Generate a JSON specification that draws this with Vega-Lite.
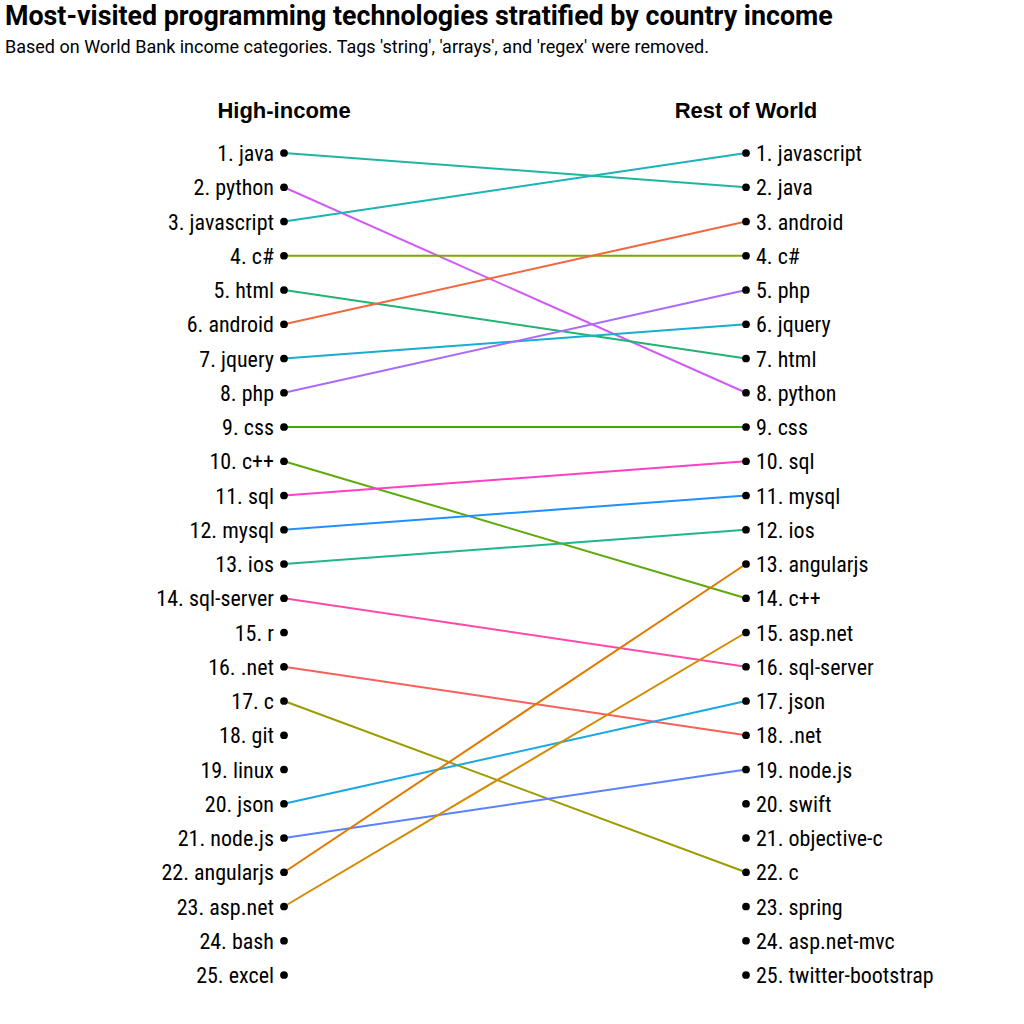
{
  "$schema": "https://vega.github.io/schema/vega-lite/v6.json",
  "width": 1024,
  "height": 964,
  "autosize": {"type": "none"},
  "padding": {"left": 0, "top": 60, "right": 0, "bottom": 0},
  "background": "white",
  "config": {"view": {"stroke": null}},
  "title": {
    "text": "Most-visited programming technologies stratified by country income",
    "subtitle": "Based on World Bank income categories. Tags 'string', 'arrays', and 'regex' were removed.",
    "anchor": "start",
    "frame": "bounds",
    "font": "Roboto",
    "fontSize": 26.8,
    "fontWeight": "bold",
    "color": "#000000",
    "subtitleFont": "Roboto",
    "subtitleFontSize": 18,
    "subtitleColor": "#000000",
    "subtitlePadding": 8,
    "offset": 3,
    "dx": 5
  },
  "data": {"values": [
    {"side": "High-income", "rank": 1, "tech": "java", "label": "1. java"},
    {"side": "High-income", "rank": 2, "tech": "python", "label": "2. python"},
    {"side": "High-income", "rank": 3, "tech": "javascript", "label": "3. javascript"},
    {"side": "High-income", "rank": 4, "tech": "c#", "label": "4. c#"},
    {"side": "High-income", "rank": 5, "tech": "html", "label": "5. html"},
    {"side": "High-income", "rank": 6, "tech": "android", "label": "6. android"},
    {"side": "High-income", "rank": 7, "tech": "jquery", "label": "7. jquery"},
    {"side": "High-income", "rank": 8, "tech": "php", "label": "8. php"},
    {"side": "High-income", "rank": 9, "tech": "css", "label": "9. css"},
    {"side": "High-income", "rank": 10, "tech": "c++", "label": "10. c++"},
    {"side": "High-income", "rank": 11, "tech": "sql", "label": "11. sql"},
    {"side": "High-income", "rank": 12, "tech": "mysql", "label": "12. mysql"},
    {"side": "High-income", "rank": 13, "tech": "ios", "label": "13. ios"},
    {"side": "High-income", "rank": 14, "tech": "sql-server", "label": "14. sql-server"},
    {"side": "High-income", "rank": 15, "tech": "r", "label": "15. r"},
    {"side": "High-income", "rank": 16, "tech": ".net", "label": "16. .net"},
    {"side": "High-income", "rank": 17, "tech": "c", "label": "17. c"},
    {"side": "High-income", "rank": 18, "tech": "git", "label": "18. git"},
    {"side": "High-income", "rank": 19, "tech": "linux", "label": "19. linux"},
    {"side": "High-income", "rank": 20, "tech": "json", "label": "20. json"},
    {"side": "High-income", "rank": 21, "tech": "node.js", "label": "21. node.js"},
    {"side": "High-income", "rank": 22, "tech": "angularjs", "label": "22. angularjs"},
    {"side": "High-income", "rank": 23, "tech": "asp.net", "label": "23. asp.net"},
    {"side": "High-income", "rank": 24, "tech": "bash", "label": "24. bash"},
    {"side": "High-income", "rank": 25, "tech": "excel", "label": "25. excel"},
    {"side": "Rest of World", "rank": 1, "tech": "javascript", "label": "1. javascript"},
    {"side": "Rest of World", "rank": 2, "tech": "java", "label": "2. java"},
    {"side": "Rest of World", "rank": 3, "tech": "android", "label": "3. android"},
    {"side": "Rest of World", "rank": 4, "tech": "c#", "label": "4. c#"},
    {"side": "Rest of World", "rank": 5, "tech": "php", "label": "5. php"},
    {"side": "Rest of World", "rank": 6, "tech": "jquery", "label": "6. jquery"},
    {"side": "Rest of World", "rank": 7, "tech": "html", "label": "7. html"},
    {"side": "Rest of World", "rank": 8, "tech": "python", "label": "8. python"},
    {"side": "Rest of World", "rank": 9, "tech": "css", "label": "9. css"},
    {"side": "Rest of World", "rank": 10, "tech": "sql", "label": "10. sql"},
    {"side": "Rest of World", "rank": 11, "tech": "mysql", "label": "11. mysql"},
    {"side": "Rest of World", "rank": 12, "tech": "ios", "label": "12. ios"},
    {"side": "Rest of World", "rank": 13, "tech": "angularjs", "label": "13. angularjs"},
    {"side": "Rest of World", "rank": 14, "tech": "c++", "label": "14. c++"},
    {"side": "Rest of World", "rank": 15, "tech": "asp.net", "label": "15. asp.net"},
    {"side": "Rest of World", "rank": 16, "tech": "sql-server", "label": "16. sql-server"},
    {"side": "Rest of World", "rank": 17, "tech": "json", "label": "17. json"},
    {"side": "Rest of World", "rank": 18, "tech": ".net", "label": "18. .net"},
    {"side": "Rest of World", "rank": 19, "tech": "node.js", "label": "19. node.js"},
    {"side": "Rest of World", "rank": 20, "tech": "swift", "label": "20. swift"},
    {"side": "Rest of World", "rank": 21, "tech": "objective-c", "label": "21. objective-c"},
    {"side": "Rest of World", "rank": 22, "tech": "c", "label": "22. c"},
    {"side": "Rest of World", "rank": 23, "tech": "spring", "label": "23. spring"},
    {"side": "Rest of World", "rank": 24, "tech": "asp.net-mvc", "label": "24. asp.net-mvc"},
    {"side": "Rest of World", "rank": 25, "tech": "twitter-bootstrap", "label": "25. twitter-bootstrap"}
  ]},
  "encoding": {
    "x": {"field": "side", "type": "nominal", "axis": null,
          "scale": {"type": "point", "domain": ["High-income", "Rest of World"], "range": [284, 746], "padding": 0}},
    "y": {"field": "rank", "type": "quantitative", "axis": null,
          "scale": {"domain": [1, 25], "range": [93, 915], "zero": false, "nice": false}}
  },
  "layer": [
    {
      "transform": [
        {"joinaggregate": [{"op": "count", "as": "n"}], "groupby": ["tech"]},
        {"filter": "datum.n == 2"}
      ],
      "mark": {"type": "line", "strokeWidth": 2},
      "encoding": {
        "detail": {"field": "tech"},
        "order": {"field": "side"},
        "color": {"field": "tech", "type": "nominal", "legend": null,
          "scale": {
            "domain": ["java", "python", "javascript", "c#", "html", "android", "jquery", "php", "css", "c++", "sql", "mysql", "ios", "sql-server", ".net", "c", "json", "node.js", "angularjs", "asp.net"],
            "range": ["#1FB5A0", "#D05CF8", "#1BB3B8", "#7FA800", "#1FB473", "#F0683C", "#1AADD0", "#A76BFF", "#3BAA0A", "#5FAA0A", "#FF3FC5", "#2090FF", "#20B58A", "#FF4AA8", "#F8605A", "#9C9C00", "#1AA8E0", "#5A82FF", "#E07800", "#D68A00"]
          }}
      }
    },
    {
      "mark": {"type": "point", "filled": true, "color": "#000000", "size": 60, "opacity": 1}
    },
    {
      "transform": [{"filter": "datum.side == 'High-income'"}],
      "mark": {"type": "text", "align": "right", "baseline": "middle", "dx": -10, "dy": 1,
               "font": "Roboto Condensed", "fontSize": 22, "color": "#000000"},
      "encoding": {"text": {"field": "label"}}
    },
    {
      "transform": [{"filter": "datum.side == 'Rest of World'"}],
      "mark": {"type": "text", "align": "left", "baseline": "middle", "dx": 10, "dy": 1,
               "font": "Roboto Condensed", "fontSize": 22, "color": "#000000"},
      "encoding": {"text": {"field": "label"}}
    },
    {
      "data": {"values": [
        {"side": "High-income", "rank": 0, "label": "High-income"},
        {"side": "Rest of World", "rank": 0, "label": "Rest of World"}
      ]},
      "mark": {"type": "text", "align": "center", "baseline": "alphabetic", "dy": -1,
               "font": "Liberation Sans, Arial, Helvetica", "fontSize": 22, "fontWeight": "bold", "color": "#000000"},
      "encoding": {"text": {"field": "label"}}
    }
  ]
}
